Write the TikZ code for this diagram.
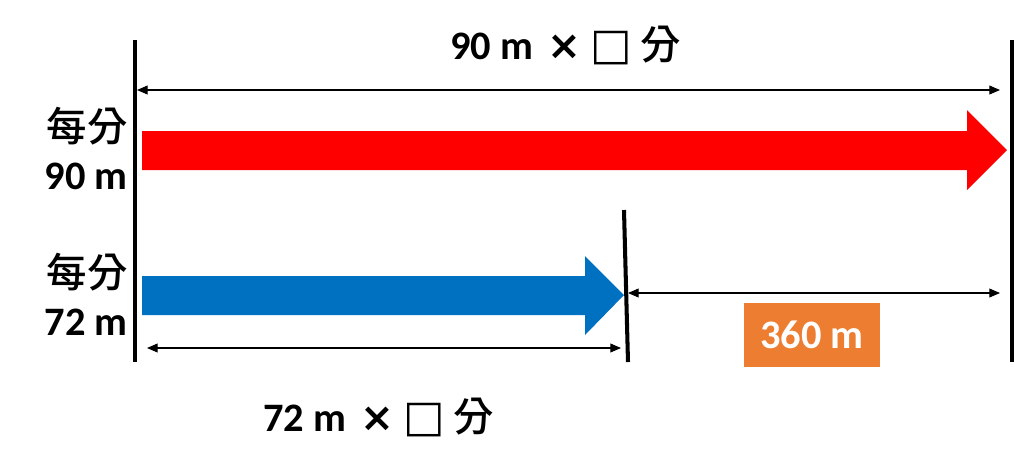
\documentclass[tikz,border=0pt]{standalone}
\usepackage{fontspec}
\setmainfont{Carlito}
\newfontfamily\cjk{Noto Sans CJK TC}[UprightFont=* Medium,BoldFont=* Bold]
\newfontfamily\dejavu{DejaVu Sans}
\newcommand{\vezes}{\hspace{8pt}{\dejavu\bfseries ×}\hspace{5pt}{\dejavu\bfseries\fontsize{25pt}{25pt}\selectfont □}\hspace{5pt}{\cjk\mdseries 分}}
\usetikzlibrary{arrows.meta}
\definecolor{vermelho}{HTML}{FF0000}
\definecolor{azul}{HTML}{0070C0}
\definecolor{laranja}{HTML}{ED7D31}
\begin{document}
\begin{tikzpicture}[x=0.02cm,y=-0.02cm,
  rotulo/.style={font=\fontsize{23pt}{26pt}\selectfont\bfseries,inner sep=0pt},
  barra/.style={line width=2.8pt},
  cota/.style={line width=0.6pt,{Triangle[length=6pt,width=5pt]}-{Triangle[length=6pt,width=5pt]}}]
  \useasboundingbox (0,0) rectangle (1015,468);
  %barras verticais
  \coordinate (v1) at (135,40);
  \coordinate (v2) at (135,362);
  \coordinate (v3) at (1012,40);
  \coordinate (v4) at (1012,362);
  \coordinate (v5) at (624,210);
  \coordinate (v6) at (628,362);
  \draw[barra] (v1) -- (v2);
  \draw[barra] (v3) -- (v4);
  \draw[line width=2.3pt] (v5) -- (v6);
  %setas grossas
  \fill[vermelho] (142,131) -- (967,131) -- (967,110) -- (1007,150) -- (967,190) -- (967,170) -- (142,170) -- cycle;
  \fill[azul] (142,276) -- (585,276) -- (585,256) -- (624,295) -- (585,335) -- (585,315) -- (142,315) -- cycle;
  %cotas
  \coordinate (c1) at (137,90);
  \coordinate (c2) at (1000,90);
  \coordinate (c3) at (628,293);
  \coordinate (c4) at (1000,293);
  \coordinate (c5) at (147,348);
  \coordinate (c6) at (621,348);
  \draw[cota] (c1) -- (c2);
  \draw[cota] (c3) -- (c4);
  \draw[cota] (c5) -- (c6);
  %rótulos
  \node[rotulo,anchor=west] (total) at (450,45) {90 m\vezes};
  \node[rotulo,anchor=west] (parte) at (263,417) {72 m\vezes};
  \node[rotulo] (vel1) at (87,126) {\cjk\mdseries 每分};
  \node[rotulo] (dist1) at (86,176) {90 m};
  \node[rotulo] (vel2) at (87,272) {\cjk\mdseries 每分};
  \node[rotulo] (dist2) at (86,322) {72 m};
  \node[rotulo,fill=laranja,text=white,minimum width=2.72cm,minimum height=1.28cm] (resto) at (812,335) {360 m};
\end{tikzpicture}
\end{document}
